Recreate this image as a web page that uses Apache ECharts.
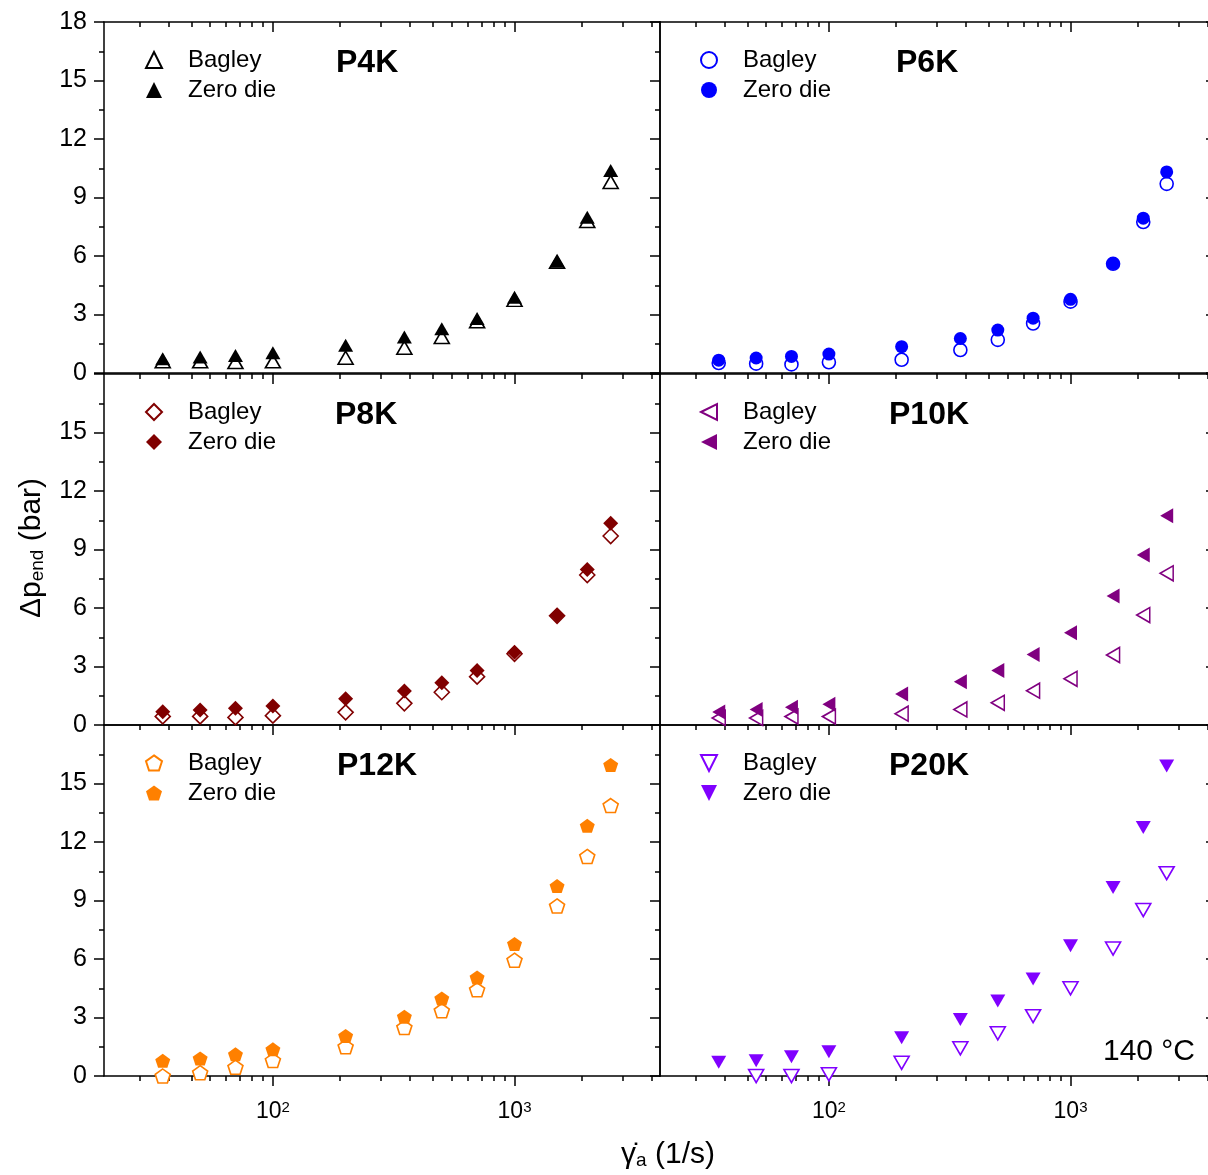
<!DOCTYPE html>
<html>
<head>
<meta charset="utf-8">
<script src="https://cdn.jsdelivr.net/npm/echarts@6/dist/echarts.min.js"></script>
<style>
  html, body { margin: 0; padding: 0; background: #fff; overflow: hidden; }
  /* the right-hand panels run slightly past the visible page edge */
  #chart { width: 1218px; height: 1175px; }
</style>
</head>
<body>
<div id="chart"></div>
<script>
// Apparent shear rate (1/s) shared by every panel
const shearRates = [35, 50, 70, 100, 200, 350, 500, 700, 1000, 1500, 2000, 2500];

// End pressure drop (bar): Bagley correction vs. zero-length die
const bagleyP4K  = [0.60, 0.60, 0.56, 0.60, 0.78, 1.30, 1.85, 2.65, 3.75, 5.70, 7.80, 9.80];
const zeroDieP4K = [0.73, 0.82, 0.90, 1.04, 1.42, 1.84, 2.27, 2.80, 3.89, 5.73, 7.99, 10.38];

const bagleyP6K  = [0.51, 0.48, 0.44, 0.55, 0.68, 1.18, 1.70, 2.54, 3.66, 5.60, 7.74, 9.70];
const zeroDieP6K = [0.66, 0.77, 0.85, 0.97, 1.35, 1.77, 2.20, 2.81, 3.78, 5.61, 7.94, 10.31];

const bagleyP8K  = [0.44, 0.44, 0.39, 0.48, 0.65, 1.11, 1.68, 2.48, 3.65, 5.60, 7.69, 9.69];
const zeroDieP8K = [0.68, 0.77, 0.86, 0.97, 1.35, 1.74, 2.17, 2.79, 3.73, 5.63, 7.98, 10.34];

const bagleyP10K  = [0.36, 0.36, 0.43, 0.43, 0.58, 0.80, 1.14, 1.76, 2.37, 3.59, 5.64, 7.78];
const zeroDieP10K = [0.67, 0.79, 0.91, 1.06, 1.59, 2.22, 2.80, 3.62, 4.73, 6.62, 8.72, 10.73];

const bagleyP12K  = [0.00, 0.17, 0.45, 0.80, 1.50, 2.49, 3.35, 4.42, 5.94, 8.72, 11.26, 13.87];
const zeroDieP12K = [0.78, 0.90, 1.11, 1.37, 2.05, 3.04, 3.98, 5.05, 6.77, 9.74, 12.83, 15.95];

const bagleyP20K  = [-0.30, 0.00, 0.00, 0.09, 0.68, 1.42, 2.19, 3.07, 4.50, 6.54, 8.51, 10.40];
const zeroDieP20K = [0.70, 0.78, 0.99, 1.24, 1.96, 2.90, 3.84, 4.98, 6.68, 9.67, 12.75, 15.90];

const panelNames = ['P4K', 'P6K', 'P8K', 'P10K', 'P12K', 'P20K'];
const seriesLabels = ['Bagley', 'Zero die'];

// Axis ticks
const xRange = [20, 4000];
const xMajorTicks = [100, 1000];
const xMinorTicks = [28, 37, 46, 55, 64, 73, 82, 91,
                     190, 280, 370, 460, 550, 640, 730, 820, 910,
                     1900, 2800, 3700];
const yRange = [0, 18];
const yStep = 3;

const bagleySets  = [bagleyP4K, bagleyP6K, bagleyP8K, bagleyP10K, bagleyP12K, bagleyP20K];
const zeroDieSets = [zeroDieP4K, zeroDieP6K, zeroDieP8K, zeroDieP10K, zeroDieP12K, zeroDieP20K];

// ---- styling / layout ----
const FONT = '"Liberation Sans", Arial, sans-serif';
const panelStyle = [
  { color: '#000000', symbol: 'triangle', size: [15, 13] },
  { color: '#0000ff', symbol: 'circle', size: 13 },
  { color: '#800000', symbol: 'diamond', size: [15, 15] },
  { color: '#800080', symbol: 'path://M0,50L100,0L100,100Z', size: [13, 15] },
  { color: '#ff8000', symbol: 'path://M50,0L100,36.33L80.9,95.1L19.1,95.1L0,36.33Z', size: [15, 14] },
  { color: '#8000ff', symbol: 'path://M0,0L100,0L50,100Z', size: [15, 13] }
];
const layout = {
  lefts: [104, 660],
  width: 556,
  tops: [22, 374, 725],
  height: 351,
  legendIconX: [153, 708],
  legendTextX: [187, 742],
  titleX: [336, 896, 335, 889, 337, 889]
};
const AXIS_W = 1.5;
const MAJOR_LEN = 10;
const MINOR_LEN = 5;
const LEGEND_ICON = 16;

const grids = [], xAxes = [], yAxes = [], series = [], legends = [], titles = [];

panelNames.forEach((pName, i) => {
  const col = i % 2, row = Math.floor(i / 2);
  const left = layout.lefts[col], top = layout.tops[row];
  grids.push({ left: left, top: top, width: layout.width, height: layout.height });

  const lineStyle = { color: '#000', width: AXIS_W };
  const baseX = {
    type: 'log', logBase: 10, gridIndex: i, min: xRange[0], max: xRange[1],
    splitLine: { show: false }, minorTick: { show: false }, minorSplitLine: { show: false }
  };
  const xLabel = {
    show: row === 2, customValues: xMajorTicks, margin: 24, color: '#000',
    formatter: v => '{b|10}{s|' + Math.round(Math.log10(v)) + '}',
    rich: {
      b: { fontSize: 23, fontFamily: FONT, color: '#000' },
      s: { fontSize: 15, fontFamily: FONT, color: '#000', verticalAlign: 'top' }
    }
  };
  const xStart = xAxes.length;
  // bottom: major ticks + labels, then minor ticks
  xAxes.push(Object.assign({}, baseX, {
    position: 'bottom', axisLine: { show: true, lineStyle },
    axisTick: { show: true, inside: false, length: MAJOR_LEN, lineStyle, customValues: xMajorTicks },
    axisLabel: xLabel
  }));
  xAxes.push(Object.assign({}, baseX, {
    position: 'bottom', axisLine: { show: false },
    axisTick: { show: true, inside: false, length: MINOR_LEN, lineStyle, customValues: xMinorTicks },
    axisLabel: { show: false }
  }));
  // top mirror
  xAxes.push(Object.assign({}, baseX, {
    position: 'top', axisLine: { show: true, lineStyle },
    axisTick: { show: true, inside: true, length: MAJOR_LEN, lineStyle, customValues: xMajorTicks },
    axisLabel: { show: false }
  }));
  xAxes.push(Object.assign({}, baseX, {
    position: 'top', axisLine: { show: false },
    axisTick: { show: true, inside: true, length: MINOR_LEN, lineStyle, customValues: xMinorTicks },
    axisLabel: { show: false }
  }));

  const baseY = {
    type: 'value', gridIndex: i, min: yRange[0], max: yRange[1], interval: yStep,
    splitLine: { show: false }, axisLine: { show: true, lineStyle }
  };
  const yStart = yAxes.length;
  yAxes.push(Object.assign({}, baseY, {
    position: 'left',
    axisTick: { show: true, inside: false, length: MAJOR_LEN, lineStyle },
    minorTick: { show: true, splitNumber: 2, length: MINOR_LEN, lineStyle },
    axisLabel: {
      show: col === 0, showMaxLabel: row === 0, margin: 17,
      fontSize: 25, fontFamily: FONT, color: '#000'
    }
  }));
  yAxes.push(Object.assign({}, baseY, {
    position: 'right',
    axisTick: { show: true, inside: true, length: MAJOR_LEN, lineStyle },
    minorTick: { show: true, splitNumber: 2, length: MINOR_LEN, lineStyle },
    axisLabel: { show: false }
  }));

  const st = panelStyle[i];
  const names = seriesLabels.map(s => pName + ' ' + s);
  const sets = [bagleySets[i], zeroDieSets[i]];
  sets.forEach((vals, k) => {
    const hollow = k === 0;
    series.push({
      type: 'scatter', name: names[k],
      xAxisIndex: xStart, yAxisIndex: yStart,
      data: shearRates.map((x, j) => [x, vals[j]]),
      symbol: st.symbol, symbolSize: st.size,
      itemStyle: hollow
        ? { color: '#ffffff', borderColor: st.color, borderWidth: 1.6, opacity: 1 }
        : { color: st.color, borderWidth: 0, opacity: 1 },
      emphasis: { disabled: true },
      clip: true
    });
  });

  const iconLeft = layout.legendIconX[col] - LEGEND_ICON / 2;
  legends.push({
    data: names, orient: 'vertical', selectedMode: false,
    left: iconLeft, top: top + 26,
    padding: 0, itemWidth: LEGEND_ICON, itemHeight: LEGEND_ICON, itemGap: 6,
    formatter: n => n.slice(pName.length + 1),
    textStyle: {
      fontSize: 24, lineHeight: 24, fontFamily: FONT, color: '#000',
      padding: [0, 0, 0, layout.legendTextX[col] - iconLeft - LEGEND_ICON - 5]
    }
  });

  titles.push({
    text: pName, left: layout.titleX[i], top: top + 25, padding: 0,
    textStyle: { fontSize: 32, fontWeight: 'bold', fontFamily: FONT, color: '#000' }
  });
});

const option = {
  animation: false,
  backgroundColor: '#ffffff',
  title: titles,
  legend: legends,
  grid: grids,
  xAxis: xAxes,
  yAxis: yAxes,
  series: series,
  graphic: [
    {
      type: 'text', x: 32, y: 548, rotation: Math.PI / 2,
      style: {
        text: '{m|Δp}{s|end}{m| (bar)}',
        align: 'center', verticalAlign: 'middle',
        rich: {
          m: { fontSize: 30, fontFamily: FONT, fill: '#000' },
          s: { fontSize: 19, fontFamily: FONT, fill: '#000', verticalAlign: 'bottom' }
        }
      }
    },
    {
      type: 'text', x: 668, y: 1155,
      style: {
        text: '{m|γ\u0307}{s|a}{m| (1/s)}',
        align: 'center', verticalAlign: 'middle',
        rich: {
          m: { fontSize: 30, fontFamily: FONT, fill: '#000' },
          s: { fontSize: 19, fontFamily: FONT, fill: '#000', verticalAlign: 'bottom' }
        }
      }
    },
    {
      type: 'text', x: 1195, y: 1052,
      style: {
        text: '140 °C', align: 'right', verticalAlign: 'middle',
        fontSize: 30, fontFamily: FONT, fill: '#000'
      }
    }
  ]
};

const chart = echarts.init(document.getElementById('chart'), null, { renderer: 'canvas' });
chart.setOption(option);
</script>
</body>
</html>
